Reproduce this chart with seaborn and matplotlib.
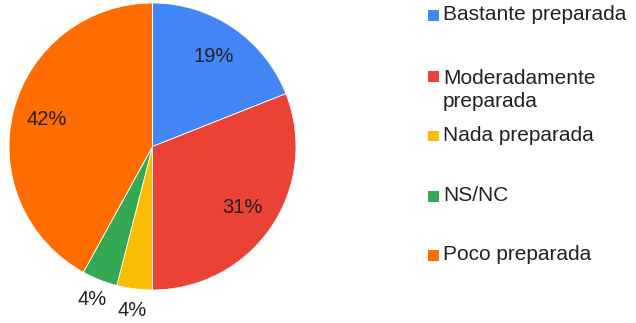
import numpy as np
import matplotlib
matplotlib.use("Agg")
import matplotlib.pyplot as plt
from matplotlib.patches import Rectangle
import seaborn as sns

categories = ["Bastante preparada", "Moderadamente\npreparada", "Nada preparada",
              "NS/NC", "Poco preparada"]
percentages = [19, 31, 4, 4, 42]
colors = ["#4285F4", "#EA4335", "#FBBC04", "#34A853", "#FF6D01"]

sns.set_style("white")
plt.rcParams["font.family"] = ["Liberation Sans", "DejaVu Sans"]
palette = sns.color_palette(colors)

fig = plt.figure(figsize=(6.36, 3.23), dpi=100)
ax = fig.add_axes([9 / 636, 33 / 323, 287 / 636, 287 / 323])

wedges, _ = ax.pie(percentages, colors=palette, startangle=90, counterclock=False,
                   wedgeprops=dict(linewidth=0.6, edgecolor="white"))
ax.set_aspect("equal")
ax.set_xlim(-1, 1)
ax.set_ylim(-1, 1)
ax.axis("off")

# percentage labels: inside for large slices, outside for small ones
text_color = "#222222"
for w, p in zip(wedges, percentages):
    mid = np.deg2rad((w.theta1 + w.theta2) / 2)
    r = 0.76 if p >= 10 else 1.15
    ax.text(r * np.cos(mid), r * np.sin(mid), f"{p}%", ha="center", va="center",
            fontsize=14.5, color=text_color, clip_on=False)

# legend on the right, one row every 60 px
row_y = [15, 76, 136, 196, 255]
for lab, c, y in zip(categories, palette, row_y):
    yf = 1 - y / 323
    fig.patches.append(Rectangle((428 / 636, yf - 5.5 / 323), 11 / 636, 11 / 323,
                                 transform=fig.transFigure, facecolor=c,
                                 edgecolor="none"))
    if "\n" in lab:
        fig.text(443 / 636, yf + 7.5 / 323, lab, ha="left", va="top",
                 fontsize=15, color=text_color, linespacing=1.28)
    else:
        fig.text(443 / 636, yf + 0.5 / 323, lab, ha="left", va="center",
                 fontsize=15, color=text_color)

fig.savefig("out.png", dpi=100)
